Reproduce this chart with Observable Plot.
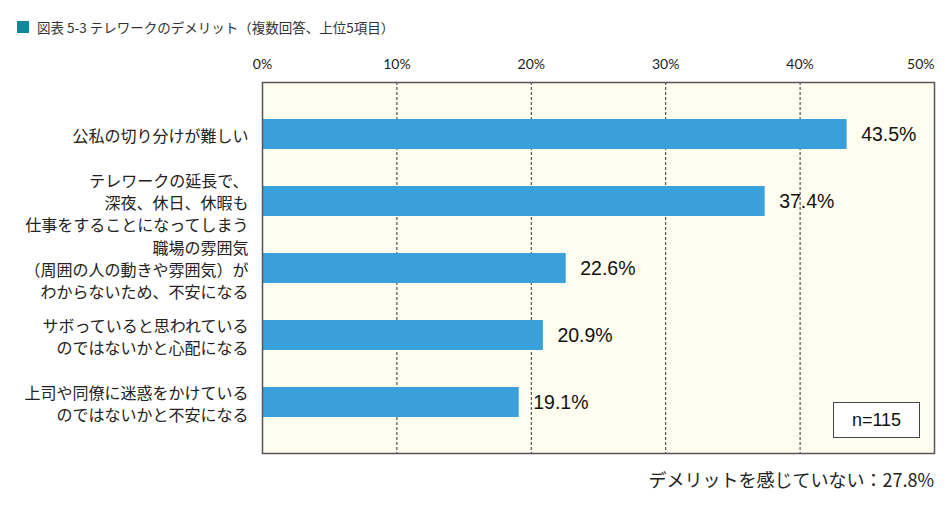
<!DOCTYPE html>
<html>
<head>
<meta charset="utf-8">
<script src="https://cdn.jsdelivr.net/npm/d3@7"></script>
<script src="https://cdn.jsdelivr.net/npm/@observablehq/plot@0.6"></script>
<style>
  html, body { margin: 0; padding: 0; background: #fff; }
  #wrap { position: relative; width: 950px; height: 510px; }
  #title { position: absolute; left: 17px; top: 17px; font: 13.5px "Noto Sans CJK JP", sans-serif; color: #333; display: flex; align-items: center; white-space: nowrap; }
  #title .sq { width: 12px; height: 12px; background: #13889a; margin-right: 8px; }
  #foot { position: absolute; right: 16px; top: 466px; font: 18px "Noto Sans CJK JP", sans-serif; color: #222; white-space: nowrap; }
  #nbox { position: absolute; left: 833px; top: 402px; width: 87px; height: 36px; border: 1.5px solid #444; background: #fff; font: 18px "Liberation Sans", Arial, sans-serif; color: #111; display: flex; align-items: center; justify-content: center; box-sizing: border-box; }
</style>
</head>
<body>
<div id="wrap">
  <div id="chart"></div>
  <div id="title"><span class="sq"></span><span>図表 5-3 テレワークのデメリット（複数回答、上位5項目）</span></div>
  <div id="nbox">n=115</div>
  <div id="foot">デメリットを感じていない：27.8%</div>
</div>
<script>
const categories = [
  "公私の切り分けが難しい",
  "テレワークの延長で、\n深夜、休日、休暇も\n仕事をすることになってしまう",
  "職場の雰囲気\n（周囲の人の動きや雰囲気）が\nわからないため、不安になる",
  "サボっていると思われている\nのではないかと心配になる",
  "上司や同僚に迷惑をかけている\nのではないかと不安になる"
];
const values = [43.5, 37.4, 22.6, 20.9, 19.1];
const ticks = [0, 10, 20, 30, 40, 50];
const gridTicks = [10, 20, 30, 40];

const data = categories.map((c, i) => ({cat: c, value: values[i]}));

const chart = Plot.plot({
  width: 950,
  height: 510,
  marginTop: 82,
  marginBottom: 57,
  marginLeft: 262,
  marginRight: 16,
  x: {domain: [0, 50], axis: null},
  y: {domain: categories, axis: null, paddingInner: 0.554, paddingOuter: 0.535},
  marks: [
    Plot.frame({fill: "#fffdef"}),
    Plot.ruleX(gridTicks, {stroke: "#333", strokeDasharray: "3,2", strokeWidth: 1}),
    Plot.barX(data, {x: "value", y: "cat", fill: "#3aa0da"}),
    Plot.text(data, {x: "value", y: "cat", text: d => d.value.toFixed(1) + "%", textAnchor: "start", dx: 14, fontSize: 19.5, fill: "#111", fontFamily: "Liberation Sans, Arial, sans-serif"}),
    Plot.text(data, {x: 0, y: "cat", text: "cat", textAnchor: "end", dx: -14, fontSize: 16, lineHeight: 1.38, fill: "#222", fontFamily: "Noto Sans CJK JP, sans-serif"}),
    Plot.text(ticks.filter(t => t < 50), {x: d => d, text: d => d + "%", frameAnchor: "top", lineAnchor: "middle", dy: -18, fontSize: 14, fill: "#222", fontFamily: "Lato, sans-serif"}),
    Plot.text(ticks.filter(t => t === 50), {x: d => d, text: d => d + "%", frameAnchor: "top", lineAnchor: "middle", dy: -18, textAnchor: "end", fontSize: 14, fill: "#222", fontFamily: "Lato, sans-serif"}),
    Plot.frame({stroke: "#555", strokeWidth: 1.5})
  ]
});
document.getElementById("chart").appendChild(chart);
</script>
</body>
</html>
